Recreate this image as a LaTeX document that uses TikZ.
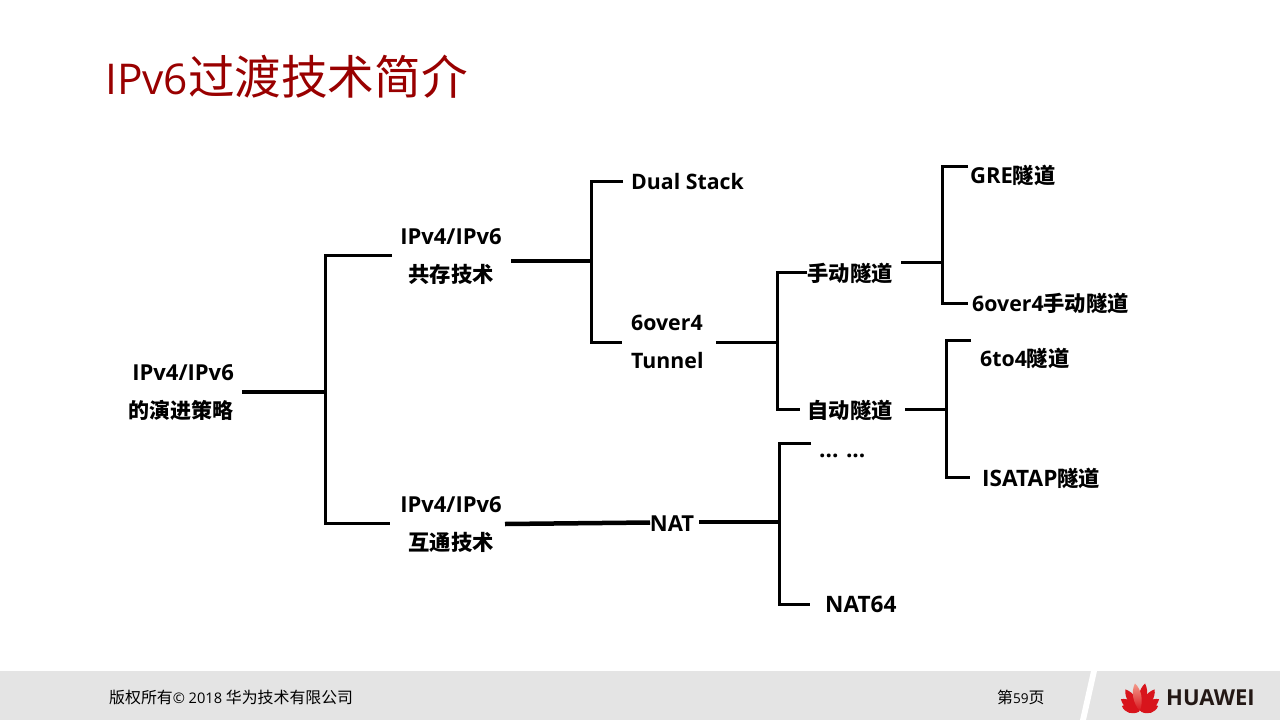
\documentclass[tikz,border=0pt]{standalone}
\usepackage{fontspec}
\setmainfont{Open Sans}
\newfontfamily\cjk{Noto Sans CJK SC}
\definecolor{titlered}{HTML}{990000}
\definecolor{band}{HTML}{E4E4E4}
\definecolor{ink}{HTML}{000000}
\definecolor{petal}{HTML}{D8141C}
\definecolor{petallight}{HTML}{F49A8A}
\definecolor{wordmark}{HTML}{231815}
\newcommand{\wide}[1]{{\fontsize{22}{38}\selectfont #1}}
\newcommand{\wider}[1]{{\fontsize{22.6}{38}\selectfont #1}}
\newcommand{\fc}[1]{{\fontsize{15.9}{16}\selectfont\cjk #1}}
\tikzset{
  lbl/.style={inner sep=0pt,text=ink,font=\fontsize{21.3}{38}\selectfont\bfseries,align=center},
  trunk/.style={line width=4.5pt,draw=ink},
  stem/.style={line width=3pt,draw=ink,line join=miter},
  foot/.style={inner sep=0pt,anchor=west,text=black,font=\fontsize{14.6}{16}\selectfont},
}
\newcommand{\petalshape}[3]{%
  \begin{scope}[shift={(1140,712)},rotate=#1]
    \shade[#3] (0,-1) .. controls (-5.5,-#2*0.35) and (-5.5,-#2*0.75) .. (0,-#2)
      .. controls (5.5,-#2*0.75) and (5.5,-#2*0.35) .. (0,-1) -- cycle;
  \end{scope}}
\begin{document}
\begin{tikzpicture}[x=1pt,y=-1pt]
\useasboundingbox (0,0) rectangle (1280,720);
\fill[white] (0,0) rectangle (1280,720);
% footer
\fill[band] (0,671) rectangle (1280,720);
\fill[white] (1091,671) -- (1097,671) -- (1086,720) -- (1080,720) -- cycle;
\node[inner sep=0pt,anchor=west,text=titlered,font=\fontsize{42.4}{48}\selectfont] (title) at (105,77) {IPv6{\fontsize{46.6}{48}\selectfont\cjk 过渡技术简介}};
\node[foot] (copy) at (109,697.5) {\fc{版权所有}© 2018 \fc{华为技术有限公司}};
\node[foot,font=\fontsize{13.6}{16}\selectfont] (page) at (997,697.5) {\fc{第}59\fc{页}};
% logo
\petalshape{-72}{19}{top color=petal,bottom color=petal}
\petalshape{72}{19}{top color=petal,bottom color=petal}
\petalshape{-56}{23}{top color=petal,bottom color=petal}
\petalshape{56}{23}{top color=petal,bottom color=petal}
\petalshape{-33}{27}{top color=petal,bottom color=petal}
\petalshape{33}{27}{top color=petal,bottom color=petal}
\petalshape{-10}{29}{top color=petal,bottom color=petal}
\petalshape{10}{29}{top color=petallight,bottom color=petal}
\node[inner sep=0pt,anchor=west,text=wordmark,font=\fontsize{22}{24}\selectfont\bfseries] (brand) at (1166,697.5) {HUAWEI};
% labels
\node[lbl,align=right,anchor=east] (root) at (234,393) {\wide{IPv4/IPv6}\\{\fontsize{21}{38}\selectfont\cjk 的演进策略}};
\node[lbl] (coexist) at (451,257) {\wide{IPv4/IPv6}\\{\cjk 共存技术}};
\node[lbl] (interop) at (451,525) {\wide{IPv4/IPv6}\\{\cjk 互通技术}};
\node[lbl,anchor=west] (dual) at (631,182) {Dual Stack};
\node[lbl,align=left,anchor=west] (over) at (631,342) {6over4\\Tunnel};
\node[lbl] (manual) at (850,273) {\cjk 手动隧道};
\node[lbl] (auto) at (850,410) {\cjk 自动隧道};
\node[lbl,anchor=west] (gre) at (970,175) {\wide{GRE}{\cjk 隧道}};
\node[lbl,anchor=west] (om) at (972,303) {6over4{\cjk 手动隧道}};
\node[lbl,anchor=west] (sixto) at (980,358) {6to4{\cjk 隧道}};
\node[lbl,anchor=west] (isatap) at (982,478) {\wider{ISATAP}{\cjk 隧道}};
\node[lbl,anchor=west] (dots) at (819,456) {\wider{...\,\,...}};
\node[lbl] (nat) at (672,524) {\wide{NAT}};
\node[lbl,anchor=west] (nat64) at (825,604) {\wider{NAT64}};
% connector ends
\foreach \n/\x/\y in {
 a0/242/392, a1/325/392, a2/392/255, a3/390/523,
 b0/511/261, b1/591/261, b2/623/181, b3/622/342,
 c0/716/342, c1/777/342, c2/807/272, c3/800/409,
 d0/901/262, d1/942/262, d2/968/166, d3/968/303,
 e0/905/409, e1/946/409, e2/971/340, e3/970/477,
 f0/505/524, f1/650/522.5,
 g0/699/522, g1/779/522, g2/811/443, g3/810/604}
 {\coordinate (\n) at (\x,\y);}
% connectors
\draw[trunk] (a0) -- (a1);
\draw[stem] (a2) -| (a1) |- (a3);
\draw[trunk] (b0) -- (b1);
\draw[stem] (b2) -| (b1) |- (b3);
\draw[stem] (c0) -- (c1);
\draw[stem] (c2) -| (c1) |- (c3);
\draw[stem] (d0) -- (d1);
\draw[stem] (d2) -| (d1) |- (d3);
\draw[stem] (e0) -- (e1);
\draw[stem] (e2) -| (e1) |- (e3);
\draw[trunk] (f0) -- (f1);
\draw[trunk] (g0) -- (g1);
\draw[stem] (g2) -| (g1) |- (g3);
\end{tikzpicture}
\end{document}
